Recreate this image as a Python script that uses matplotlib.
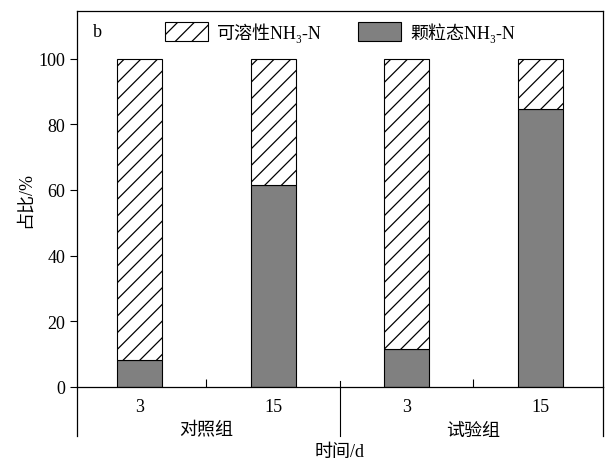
import matplotlib
matplotlib.use("Agg")
import matplotlib.pyplot as plt
import matplotlib.transforms as mtransforms
from matplotlib.patches import Patch
import numpy as np

plt.rcParams['font.family'] = ['Liberation Serif', 'Noto Sans CJK SC', 'DejaVu Serif']
plt.rcParams['hatch.linewidth'] = 0.9

# 各组各时间点的颗粒态/可溶性占比（%）
groups = ['对照组', '试验组']
days = ['3', '15', '3', '15']
particulate = [8.2, 61.5, 11.6, 84.8]
soluble = [100 - p for p in particulate]

fig = plt.figure(figsize=(6.06, 4.64), dpi=100)
ax = fig.add_axes([0.127, 0.164, 0.868, 0.810])

x = np.arange(1, len(days) + 1)
w = 0.34
ax.bar(x, particulate, width=w, color='#808080', edgecolor='black', linewidth=0.8)
ax.bar(x, soluble, width=w, bottom=particulate, color='white', edgecolor='black',
       hatch='//', linewidth=0.8)

ax.set_xlim(0.53, 4.47)
ax.set_ylim(0, 114.5)
ax.set_yticks(range(0, 101, 20))
ax.tick_params(axis='y', direction='out', length=5, labelsize=13, width=0.8)
ax.set_xticks(x)
ax.set_xticklabels(days)
ax.tick_params(axis='x', length=0, labelsize=13, pad=8)
ax.set_xticks([1.5, 3.5], minor=True)
ax.tick_params(axis='x', which='minor', direction='in', length=6, width=0.8)
for s in ax.spines.values():
    s.set_linewidth(0.9)

ax.set_ylabel('占比/%', fontsize=13, labelpad=3)

# 分组标签与分隔线
trans = mtransforms.blended_transform_factory(ax.transData, ax.transAxes)
ax.text(1.5, -0.115, groups[0], transform=trans, ha='center', va='center', fontsize=13)
ax.text(3.5, -0.115, groups[1], transform=trans, ha='center', va='center', fontsize=13)
ax.plot([2.5, 2.5], [0.016, -0.13], transform=trans, color='black', lw=0.8, clip_on=False)
ax.plot([0, 0], [0, -0.13], transform=ax.transAxes, color='black', lw=0.9, clip_on=False)
ax.plot([1, 1], [0, -0.13], transform=ax.transAxes, color='black', lw=0.9, clip_on=False)
ax.text(0.5, -0.172, '时间/d', transform=ax.transAxes, ha='center', va='center', fontsize=13)

ax.text(0.03, 0.945, 'b', transform=ax.transAxes, ha='left', va='center', fontsize=13)

handles = [Patch(facecolor='white', edgecolor='black', hatch='//', linewidth=0.8),
           Patch(facecolor='#808080', edgecolor='black', linewidth=0.8)]
labels = ['可溶性NH₃-N', '颗粒态NH₃-N']
ax.legend(handles, labels, loc='center', bbox_to_anchor=(0.5, 0.944), ncol=2,
          frameon=False, fontsize=13, handlelength=2.4, handleheight=1.25,
          columnspacing=2.0, handletextpad=0.5)

fig.savefig('out.png', dpi=100)
